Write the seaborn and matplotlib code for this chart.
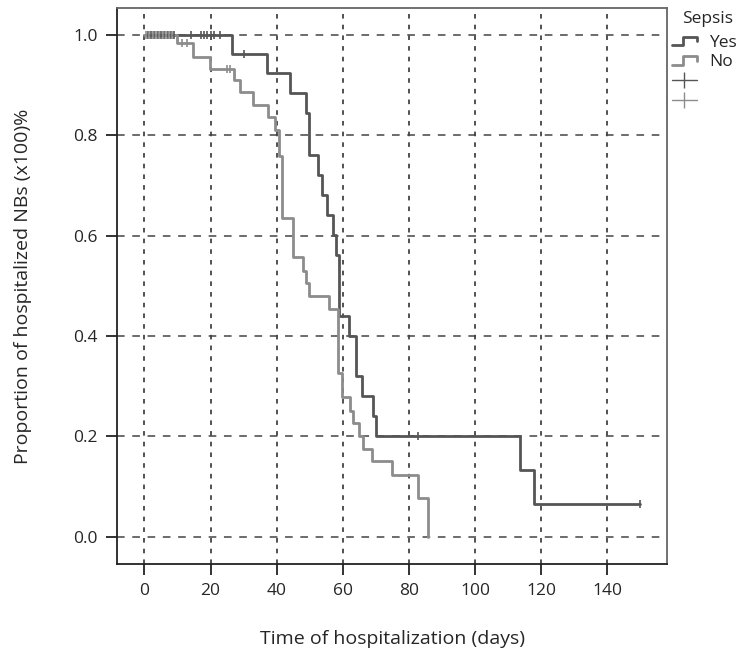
import matplotlib
matplotlib.use("Agg")
import matplotlib.pyplot as plt
from matplotlib.lines import Line2D
from matplotlib.legend_handler import HandlerBase
import seaborn as sns
import pandas as pd

# Kaplan-Meier steps (time in days, proportion after the step)
yes_time = [0, 26.4, 37, 44, 48.9, 49.9, 52.6, 53.6, 55.2, 57, 58, 59, 62, 64,
            65.7, 69, 70, 113.6, 117.8, 150]
yes_surv = [1.0, 0.963, 0.924, 0.884, 0.844, 0.760, 0.721, 0.681, 0.641, 0.601,
            0.561, 0.44, 0.40, 0.32, 0.28, 0.24, 0.20, 0.133, 0.065, 0.065]
no_time = [0, 9.8, 14.8, 19.9, 27, 29, 33, 37.5, 39.5, 40.8, 41.5, 45, 47.9,
           48.9, 49.9, 55.9, 58.7, 59.7, 62.2, 63, 65, 66, 68.8, 74.8, 82.7, 85.7]
no_surv = [1.0, 0.983, 0.957, 0.932, 0.910, 0.887, 0.860, 0.836, 0.811, 0.759,
           0.635, 0.557, 0.530, 0.505, 0.480, 0.454, 0.326, 0.279, 0.251, 0.227,
           0.200, 0.176, 0.152, 0.124, 0.077, 0.0]

# censored observations
yes_cens_t = [1, 2, 3, 4, 5, 6, 7, 8, 9, 14, 17, 18, 19, 20, 21, 23, 30, 82.8, 150]
yes_cens_s = [1.0] * 16 + [0.963, 0.20, 0.065]
no_cens_t = [0.5, 1.5, 2.5, 3.5, 4.5, 5.5, 6.5, 7.5, 8.5, 11.3, 12.8, 25, 26]
no_cens_s = [1.0] * 9 + [0.983, 0.983, 0.932, 0.932]

groups = ["Yes", "No"]
colors = {"Yes": "#555555", "No": "#8c8c8c"}

curves = pd.concat([
    pd.DataFrame({"time": yes_time, "surv": yes_surv, "Sepsis": "Yes"}),
    pd.DataFrame({"time": no_time, "surv": no_surv, "Sepsis": "No"}),
])
cens = pd.concat([
    pd.DataFrame({"time": yes_cens_t, "surv": yes_cens_s, "Sepsis": "Yes"}),
    pd.DataFrame({"time": no_cens_t, "surv": no_cens_s, "Sepsis": "No"}),
])

sns.set_style("white")
plt.rcParams["font.family"] = ["Open Sans", "DejaVu Sans"]

fig = plt.figure(figsize=(7.47, 6.55), dpi=100)
ax = fig.add_axes([0.157, 0.139, 0.736, 0.849])

sns.lineplot(data=curves, x="time", y="surv", hue="Sepsis", palette=colors,
             hue_order=groups, estimator=None, sort=False, drawstyle="steps-post",
             lw=2, legend=False, ax=ax, zorder=3)
for g in groups:
    sub = cens[cens["Sepsis"] == g]
    ax.plot(sub["time"], sub["surv"], ls="none", marker="|", ms=6, mew=1.2,
            color=colors[g], zorder=4)

ax.set_xlim(-8.2, 158.1)
ax.set_ylim(-0.054, 1.054)
ax.set_xticks([0, 20, 40, 60, 80, 100, 120, 140])
ax.set_yticks([0.0, 0.2, 0.4, 0.6, 0.8, 1.0])
ax.set_yticklabels(["0.0", "0.2", "0.4", "0.6", "0.8", "1.0"])
ax.xaxis.grid(True, color="#222222", lw=1.1, ls=(0, (3, 4)))
ax.yaxis.grid(True, color="#444444", lw=1.1, ls=(0, (5, 5)))
ax.set_axisbelow(True)

ax.tick_params(axis="both", direction="out", length=8, width=1.3, color="#222222",
               labelsize=12.5, pad=6, left=True, bottom=True)
for s in ["left", "bottom"]:
    ax.spines[s].set_color("#222222")
    ax.spines[s].set_linewidth(1.3)
for s in ["top", "right"]:
    ax.spines[s].set_color("#666666")
    ax.spines[s].set_linewidth(1.3)

ax.set_xlabel("Time of hospitalization (days)", fontsize=14, labelpad=22)
ax.set_ylabel("Proportion of hospitalized NBs (x100)%", fontsize=14, labelpad=30)


class StepHandler(HandlerBase):
    def create_artists(self, legend, orig_handle, xdescent, ydescent, width,
                       height, fontsize, trans):
        w, h = width, height
        xs = [-xdescent, -xdescent + 0.45 * w, -xdescent + 0.45 * w, w, w]
        ys = [0.15 * h, 0.15 * h, 0.85 * h, 0.85 * h, 0.45 * h]
        ln = Line2D(xs, ys, color=orig_handle.get_color(), lw=2, transform=trans)
        return [ln]


handles = [Line2D([], [], color=colors[g]) for g in groups]
cross = [Line2D([], [], color=colors[g], marker="|", ms=12, mew=1.0, lw=1.0)
         for g in groups]
fig.text(682 / 747, 1 - 19 / 655, "Sepsis", fontsize=12.5, va="center", ha="left",
         color="#262626")
leg = fig.legend(handles + cross, groups + ["", ""], loc="upper left",
                 bbox_to_anchor=(0.9, 0.947), frameon=False,
                 fontsize=12.5, handlelength=1.4,
                 handletextpad=0.7, labelspacing=0.2,
                 borderaxespad=0, borderpad=0,
                 handler_map={h: StepHandler() for h in handles})

fig.savefig("out.png", dpi=100)
